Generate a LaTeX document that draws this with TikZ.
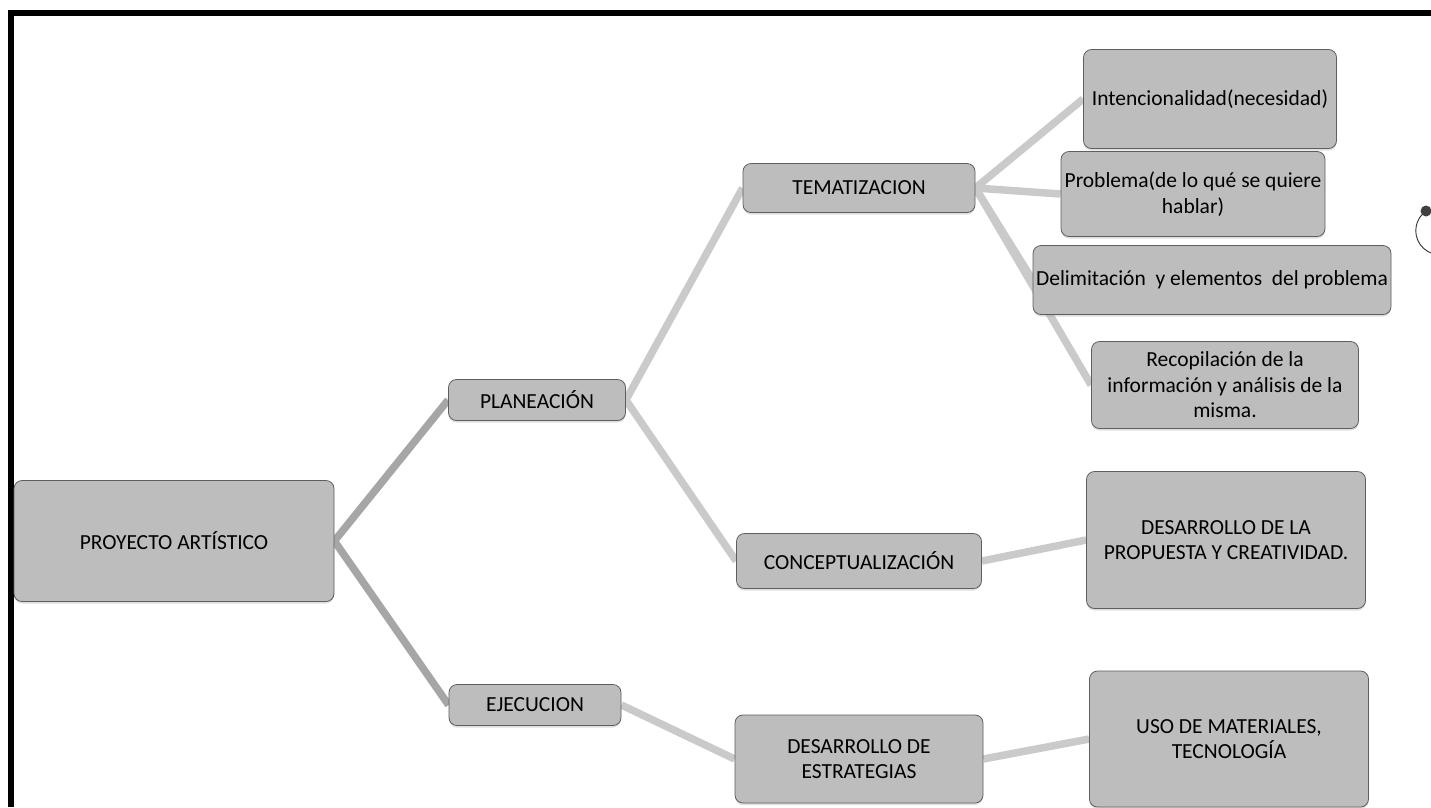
\documentclass[tikz,border=0pt]{standalone}
\usepackage{fontspec}
\setmainfont{Carlito}
\usetikzlibrary{positioning, shadows, backgrounds}
\definecolor{mmBox}{HTML}{BDBDBD}
\definecolor{mmEdge}{HTML}{5E5E5E}
\definecolor{mmLink}{HTML}{CACACA}
\definecolor{mmRoot}{HTML}{A6A6A6}
\tikzset{
  mmnode/.style={
    draw=mmEdge, fill=mmBox, rounded corners=8pt, line width=0.8pt,
    align=center, inner sep=2pt, font=\fontsize{21.5}{25.5}\selectfont,
    drop shadow={shadow xshift=0pt, shadow yshift=-2pt, opacity=0.25}
  },
  link/.style={line width=7.5pt, mmLink},
  rootlink/.style={link, mmRoot},
  frameline/.style={line width=6pt, black}
}
\begin{document}
\begin{tikzpicture}[x=1pt, y=-1pt]
  \useasboundingbox (0,0) rectangle (1431,807);
  % outer frame (top and left only)
  \draw[frameline] (11,807) -- (11,13) -- (1431,13);
  % level 0 and 1
  \node[mmnode, minimum width=320pt, minimum height=121pt] (root) at (174,541) {PROYECTO ARTÍSTICO};
  \node[mmnode, minimum width=177pt, minimum height=41pt] (plan) at (537,400) {PLANEACIÓN};
  \node[mmnode, minimum width=172pt, minimum height=41pt] (ejec) at (535,705) {EJECUCION};
  % level 2
  \node[mmnode, minimum width=232pt, minimum height=49pt] (tema) at (859,188) {TEMATIZACION};
  \node[mmnode, minimum width=245pt, minimum height=55pt] (concep) at (859,561) {CONCEPTUALIZACIÓN};
  \node[mmnode, minimum width=248pt, minimum height=88pt] (estrat) at (859,759) {DESARROLLO DE\\ESTRATEGIAS};
  % level 3
  \node[mmnode, minimum width=253pt, minimum height=99pt] (inten) at (1210,99) {Intencionalidad(necesidad)};
  \node[mmnode, minimum width=264pt, minimum height=85pt] (probl) at (1193,194) {Problema(de lo qué se quiere\\hablar)};
  \node[mmnode, minimum width=358pt, minimum height=69pt] (delim) at (1212,280) {Delimitación\ \ y elementos\ \ del problema};
  \node[mmnode, minimum width=267pt, minimum height=87pt] (recop) at (1225,385) {Recopilación de la\\información y análisis de la\\misma.};
  \node[mmnode, minimum width=279pt, minimum height=137pt] (propu) at (1226,540) {DESARROLLO DE LA\\PROPUESTA Y CREATIVIDAD.};
  \node[mmnode, minimum width=279pt, minimum height=136pt] (mater) at (1229,739) {USO DE MATERIALES,\\TECNOLOGÍA};
  % connectors
  \begin{scope}[on background layer]
    \draw[rootlink] (root.east) -- (plan.west);
    \draw[rootlink] (root.east) -- (ejec.west);
    \draw[link] (plan.east) -- (tema.west);
    \draw[link] (plan.east) -- (concep.west);
    \draw[link] (ejec.east) -- (estrat.west);
    \draw[link] (tema.east) -- (inten.west);
    \draw[link] (tema.east) -- (probl.west);
    \draw[link] (tema.east) -- (delim.west);
    \draw[link] (tema.east) -- (recop.west);
    \draw[link] (concep.east) -- (propu.west);
    \draw[link] (estrat.east) -- (mater.west);
  \end{scope}
  % small mark at the right edge
  \coordinate (knob) at (1426,211);
  \draw[black!80, line width=0.9pt] (knob) arc[start angle=125, end angle=265, radius=24pt];
  \fill[black!75] (knob) circle (5.5pt);
\end{tikzpicture}
\end{document}
